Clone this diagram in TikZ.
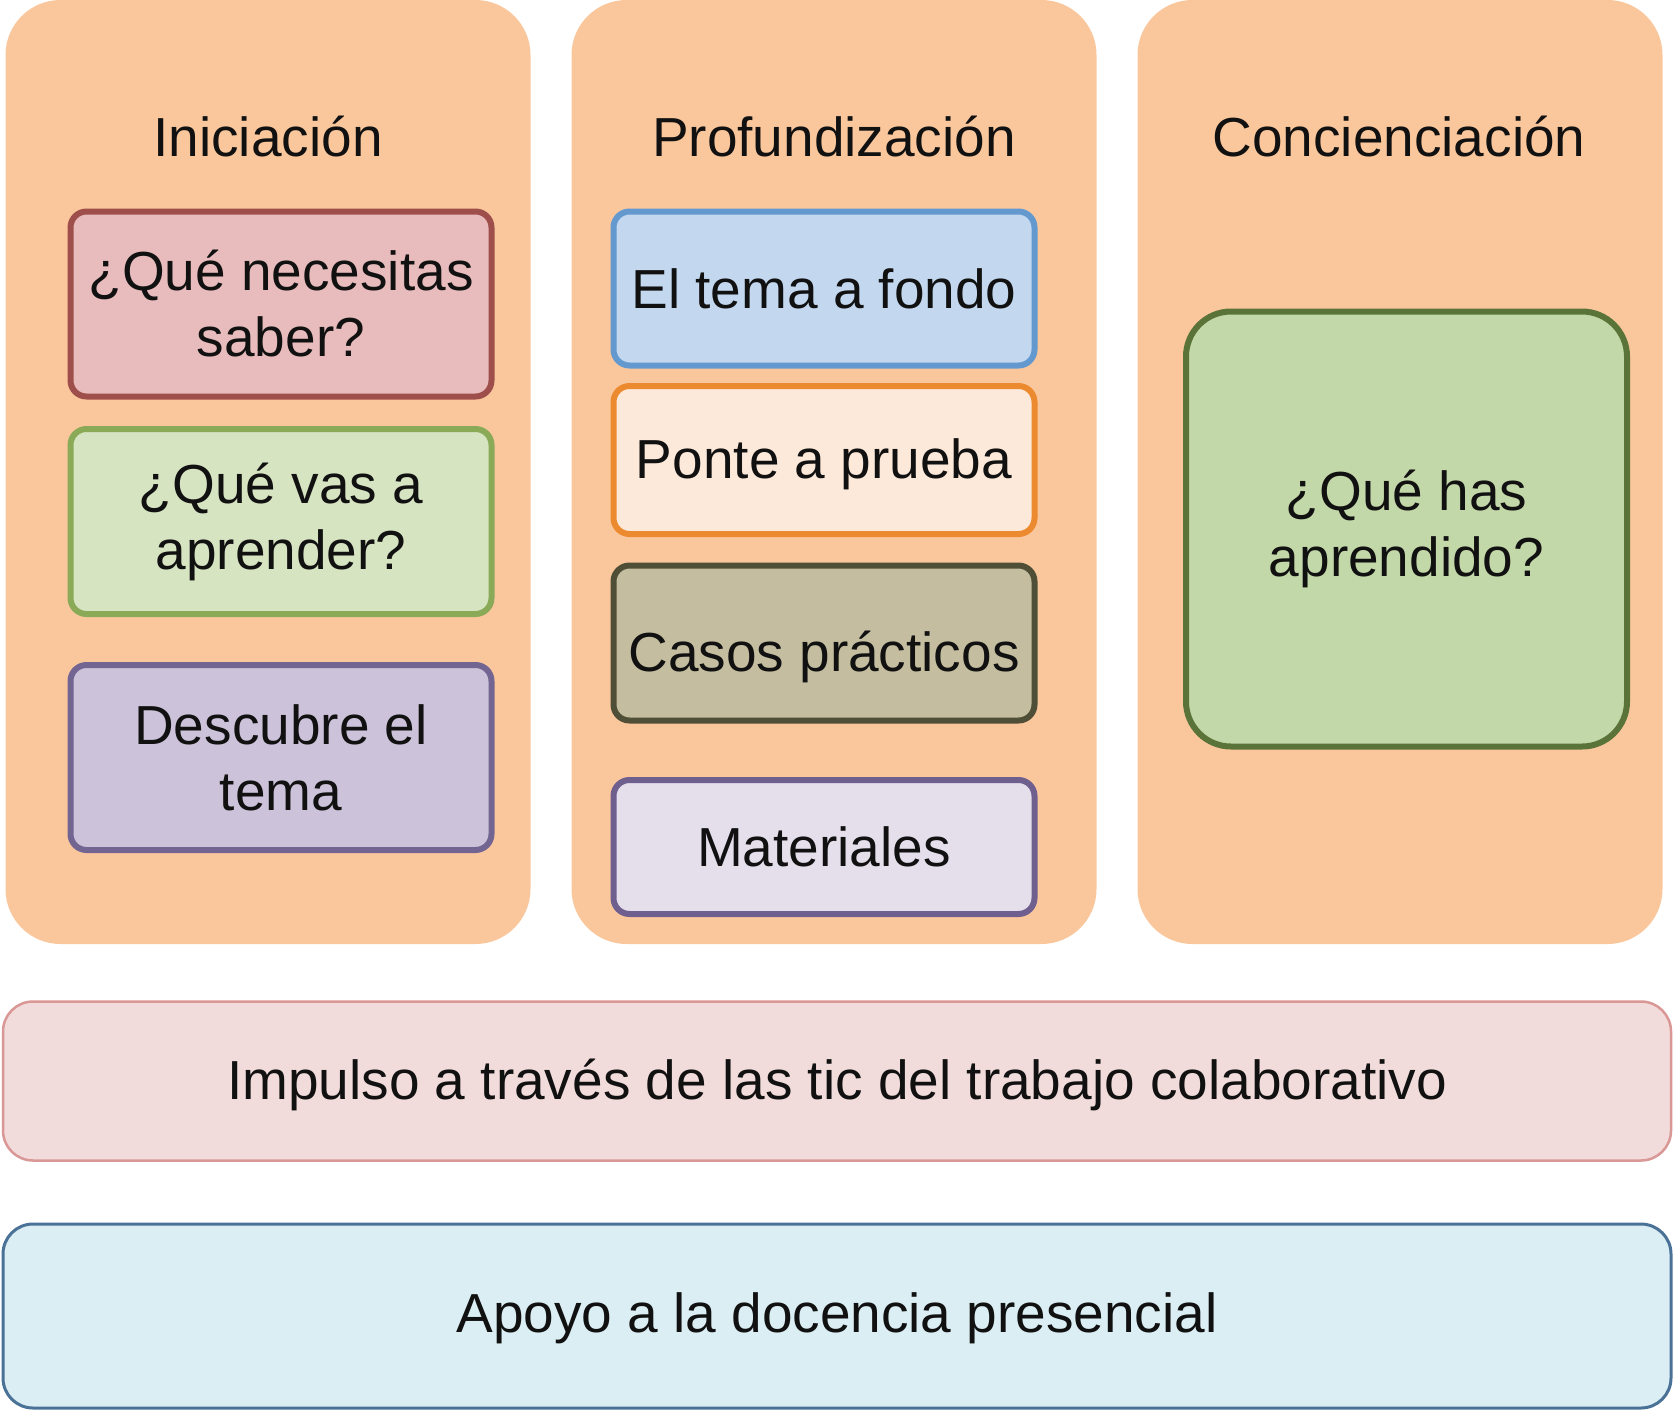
\documentclass[tikz,border=0pt]{standalone}
\usepackage{fontspec}
\setmainfont{Liberation Sans}
\definecolor{peach}{HTML}{FAC79D}
\definecolor{txt}{HTML}{111111}
\definecolor{redF}{HTML}{E8BCBC}\definecolor{redD}{HTML}{9E4F4C}
\definecolor{grnF}{HTML}{D7E4C2}\definecolor{grnD}{HTML}{8AAA58}
\definecolor{purF}{HTML}{CCC2D9}\definecolor{purD}{HTML}{736592}
\definecolor{bluF}{HTML}{C3D8EF}\definecolor{bluD}{HTML}{6399CE}
\definecolor{orgF}{HTML}{FDE9D9}\definecolor{orgD}{HTML}{EB8A2F}
\definecolor{oliF}{HTML}{C4BD9F}\definecolor{oliD}{HTML}{4F4E36}
\definecolor{lavF}{HTML}{E5DFEC}\definecolor{lavD}{HTML}{6F5F8F}
\definecolor{cnF}{HTML}{C3D8A9}\definecolor{cnD}{HTML}{5A7338}
\definecolor{pkF}{HTML}{F2DCDB}\definecolor{pkD}{HTML}{D99795}
\definecolor{bbF}{HTML}{DAEEF3}\definecolor{bbD}{HTML}{4A7196}
\newcommand{\lowtxt}[2]{\raisebox{#1}[\height][\depth]{#2}}
\tikzset{
  lbl/.style={text=txt, font=\fontsize{55}{66}\selectfont, align=center, inner sep=0pt},
  column/.style={fill=peach, draw=none, rounded corners=55pt, inner sep=0pt},
  card/.style n args={2}{lbl, fill=#1, draw=#2, line width=6pt, rounded corners=16pt, minimum width=421pt},
  bar/.style n args={2}{lbl, fill=#1, draw=#2, line width=2.5pt, rounded corners=30pt, minimum width=1668pt},
}
\begin{document}
\begin{tikzpicture}[x=1pt,y=-1pt]
\useasboundingbox (0,0) rectangle (1674,1411);
% columns
\node[column, minimum width=525pt, minimum height=944pt] (c1) at (268,472) {};
\node[column, minimum width=525pt, minimum height=944pt] (c2) at (834,472) {};
\node[column, minimum width=525pt, minimum height=944pt] (c3) at (1400,472) {};
% titles
\node[lbl] (t1) at (268,137) {Iniciación};
\node[lbl] (t2) at (834,137) {Profundización};
\node[lbl] (t3) at (1399,137) {Concienciación};
% column 1
\node[card={redF}{redD}, minimum height=185pt] (b1) at (281,304) {¿Qué necesitas\\saber?};
\node[card={grnF}{grnD}, minimum height=185pt] (b2) at (281,521.5) {¿Qué vas a\\aprender?};
\node[card={purF}{purD}, minimum height=185pt] (b3) at (281,757.5) {Descubre el\\tema};
% column 2
\node[card={bluF}{bluD}, minimum height=154pt] (p1) at (824,288.5) {El tema a fondo};
\node[card={orgF}{orgD}, minimum height=148pt] (p2) at (824,460) {\lowtxt{-4pt}{Ponte a prueba}};
\node[card={oliF}{oliD}, minimum height=155pt] (p3) at (824,643) {\lowtxt{-14pt}{Casos prácticos}};
\node[card={lavF}{lavD}, minimum height=134pt] (p4) at (824,847) {Materiales};
% column 3
\node[card={cnF}{cnD}, minimum width=441pt, minimum height=435pt, rounded corners=45pt] (k1) at (1406.5,529) {¿Qué has\\aprendido?};
% bars
\node[bar={pkF}{pkD}, minimum height=159pt] (r1) at (837,1081) {\lowtxt{-4pt}{Impulso a través de las tic del trabajo colaborativo}};
\node[bar={bbF}{bbD}, minimum height=184pt, line width=3pt] (r2) at (837,1316) {\lowtxt{-2pt}{Apoyo a la docencia presencial}};
\end{tikzpicture}
\end{document}
